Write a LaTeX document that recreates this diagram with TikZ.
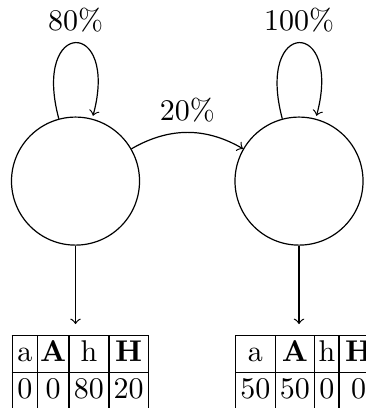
\documentclass[tikz,border=0pt]{standalone}
\usepackage{array}
\usetikzlibrary{calc}
\begin{document}
\begin{tikzpicture}[
  state/.style={circle, draw, minimum size=1.5cm, inner sep=0pt},
  tablebox/.style={anchor=north west, inner sep=0.3333em},
  link/.style={->},
]
\useasboundingbox (-25.17pt,-75.63pt) rectangle (96.83pt,60.37pt);

% the two states
\node[state] (s1) at (0,0) {};
\node[state] (s2) at (74.5pt,0) {};

% transitions with their probabilities
\path[link] (s1) edge[loop above] node[above] (p1) {80\%} (s1)
            (s1) edge[bend left] node[above] (p2) {20\%} (s2)
            (s2) edge[loop above] node[above] (p3) {100\%} (s2);

% value tables below each state
\node[tablebox] (t1) at (-24.8pt,-47.67pt) {\setlength{\tabcolsep}{0pt}%
  \begin{tabular}{|w{c}{7.9pt}|w{c}{10.2pt}|w{c}{12.9pt}|w{c}{12.7pt}|}
    \hline a & \textbf{A} & h & \textbf{H}\\
    \hline 0 & 0 & 80 & 20\\
    \hline
  \end{tabular}};
\node[tablebox] (t2) at ($(s2)+(-24.8pt,-47.67pt)$) {\setlength{\tabcolsep}{0pt}%
  \begin{tabular}{|w{c}{12.7pt}|w{c}{12.8pt}|w{c}{7.7pt}|w{c}{12.7pt}|}
    \hline a & \textbf{A} & h & \textbf{H}\\
    \hline 50 & 50 & 0 & 0\\
    \hline
  \end{tabular}};

\draw[link] (s1) -- (s1 |- t1.north);
\draw[link] (s2) -- (s2 |- t2.north);
\end{tikzpicture}
\end{document}
